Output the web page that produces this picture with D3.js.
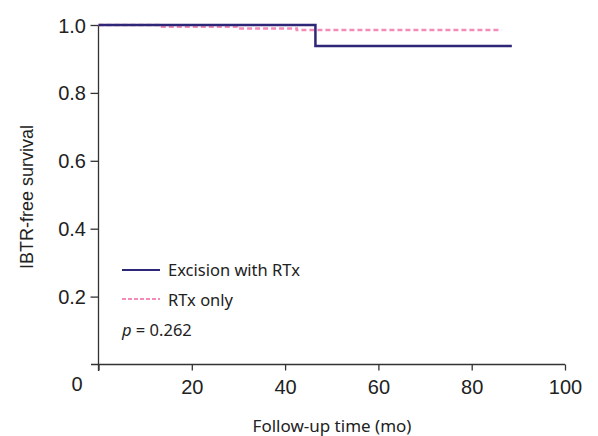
<!DOCTYPE html>
<html>
<head>
<meta charset="utf-8">
<script src="https://cdn.jsdelivr.net/npm/d3@7"></script>
<style>
  body { margin: 0; background: #fff; }
  svg { display: block; }
</style>
</head>
<body>
<script>
var width = 598, height = 436;

// Kaplan-Meier step points [month, survival]
const excision = [[0, 1.0], [46.5, 1.0], [46.5, 0.938], [88.6, 0.938]];
const rtxOnly = [[0, 1.0], [13.2, 1.0], [13.2, 0.995], [29.7, 0.995], [29.7, 0.99],
                 [42.5, 0.99], [42.5, 0.985], [86.4, 0.985]];
const xTicks = [20, 40, 60, 80, 100];
const yTicks = [0.2, 0.4, 0.6, 0.8, 1.0];
const legendNames = ["Excision with RTx", "RTx only"];
const pValue = "0.262";

const x = d3.scaleLinear().domain([0, 100]).range([98.5, 565]);
const y = d3.scaleLinear().domain([0, 1]).range([364.5, 25]);

var svg = d3.select("body").append("svg")
  .attr("width", width).attr("height", height);

const axisColor = "#333";
const tickFont = "Liberation Sans, Arial, sans-serif";
const tickSize = 20;

// x axis
var xg = svg.append("g").attr("transform", "translate(0," + y(0) + ")");
xg.call(d3.axisBottom(x).tickValues([0].concat(xTicks)).tickSize(6).tickFormat(d => d === 0 ? "" : d));
xg.select(".domain").remove();
xg.append("line").attr("x1", 91).attr("x2", x(100)).attr("stroke", axisColor).attr("stroke-width", 1.3);
xg.selectAll(".tick line").attr("stroke", axisColor).attr("stroke-width", 1.3);
xg.selectAll(".tick text").attr("fill", "#222").attr("font-family", tickFont)
  .attr("font-size", tickSize).attr("y", 11).attr("dy", "0.9em");

// y axis
var yg = svg.append("g").attr("transform", "translate(" + x(0) + ",0)");
yg.call(d3.axisLeft(y).tickValues(yTicks).tickSize(8).tickFormat(d3.format(".1f")));
yg.select(".domain").remove();
yg.append("line").attr("y1", y(1)).attr("y2", 371).attr("stroke", axisColor).attr("stroke-width", 1.3);
yg.selectAll(".tick line").attr("stroke", axisColor).attr("stroke-width", 1.3);
yg.selectAll(".tick text").attr("fill", "#222").attr("font-family", tickFont)
  .attr("font-size", tickSize).attr("x", -12.5).attr("dy", "0.35em");

// shared origin label
svg.append("text").attr("x", 77).attr("y", 391).attr("text-anchor", "middle")
  .attr("font-family", tickFont).attr("font-size", tickSize).attr("fill", "#222").text("0");

// axis titles
svg.append("text").attr("x", 332).attr("y", 432).attr("text-anchor", "middle")
  .attr("font-family", "Noto Sans, sans-serif").attr("font-size", 17).attr("fill", "#222")
  .text("Follow-up time (mo)");
svg.append("text").attr("transform", "translate(33,197) rotate(-90)").attr("text-anchor", "middle")
  .attr("font-family", tickFont).attr("font-size", 18).attr("fill", "#222")
  .text("IBTR-free survival");

const line = d3.line().x(d => x(d[0])).y(d => y(d[1]));

svg.append("path").datum(rtxOnly).attr("d", line).attr("fill", "none")
  .attr("stroke", "#f48cba").attr("stroke-width", 2.5).attr("stroke-dasharray", "5,3");
svg.append("path").datum(excision).attr("d", line).attr("fill", "none")
  .attr("stroke", "#2e2777").attr("stroke-width", 2.5);

// legend
var lg = svg.append("g");
const legendFont = "Noto Sans, sans-serif";
lg.append("line").attr("x1", 122).attr("x2", 160).attr("y1", 270).attr("y2", 270)
  .attr("stroke", "#2e2777").attr("stroke-width", 2.2);
lg.append("line").attr("x1", 122).attr("x2", 160).attr("y1", 299).attr("y2", 299)
  .attr("stroke", "#f48cba").attr("stroke-width", 1.8).attr("stroke-dasharray", "4,2");
lg.selectAll("text.name").data(legendNames).join("text").attr("class", "name")
  .attr("x", 168).attr("y", (d, i) => 276 + i * 30)
  .attr("font-family", legendFont).attr("font-size", 16.5).attr("fill", "#222").text(d => d);
var pt = lg.append("text").attr("x", 122).attr("y", 336)
  .attr("font-family", legendFont).attr("font-size", 16.5).attr("fill", "#222");
pt.append("tspan").attr("font-style", "italic").text("p");
pt.append("tspan").text(" = " + pValue);
</script>
</body>
</html>
